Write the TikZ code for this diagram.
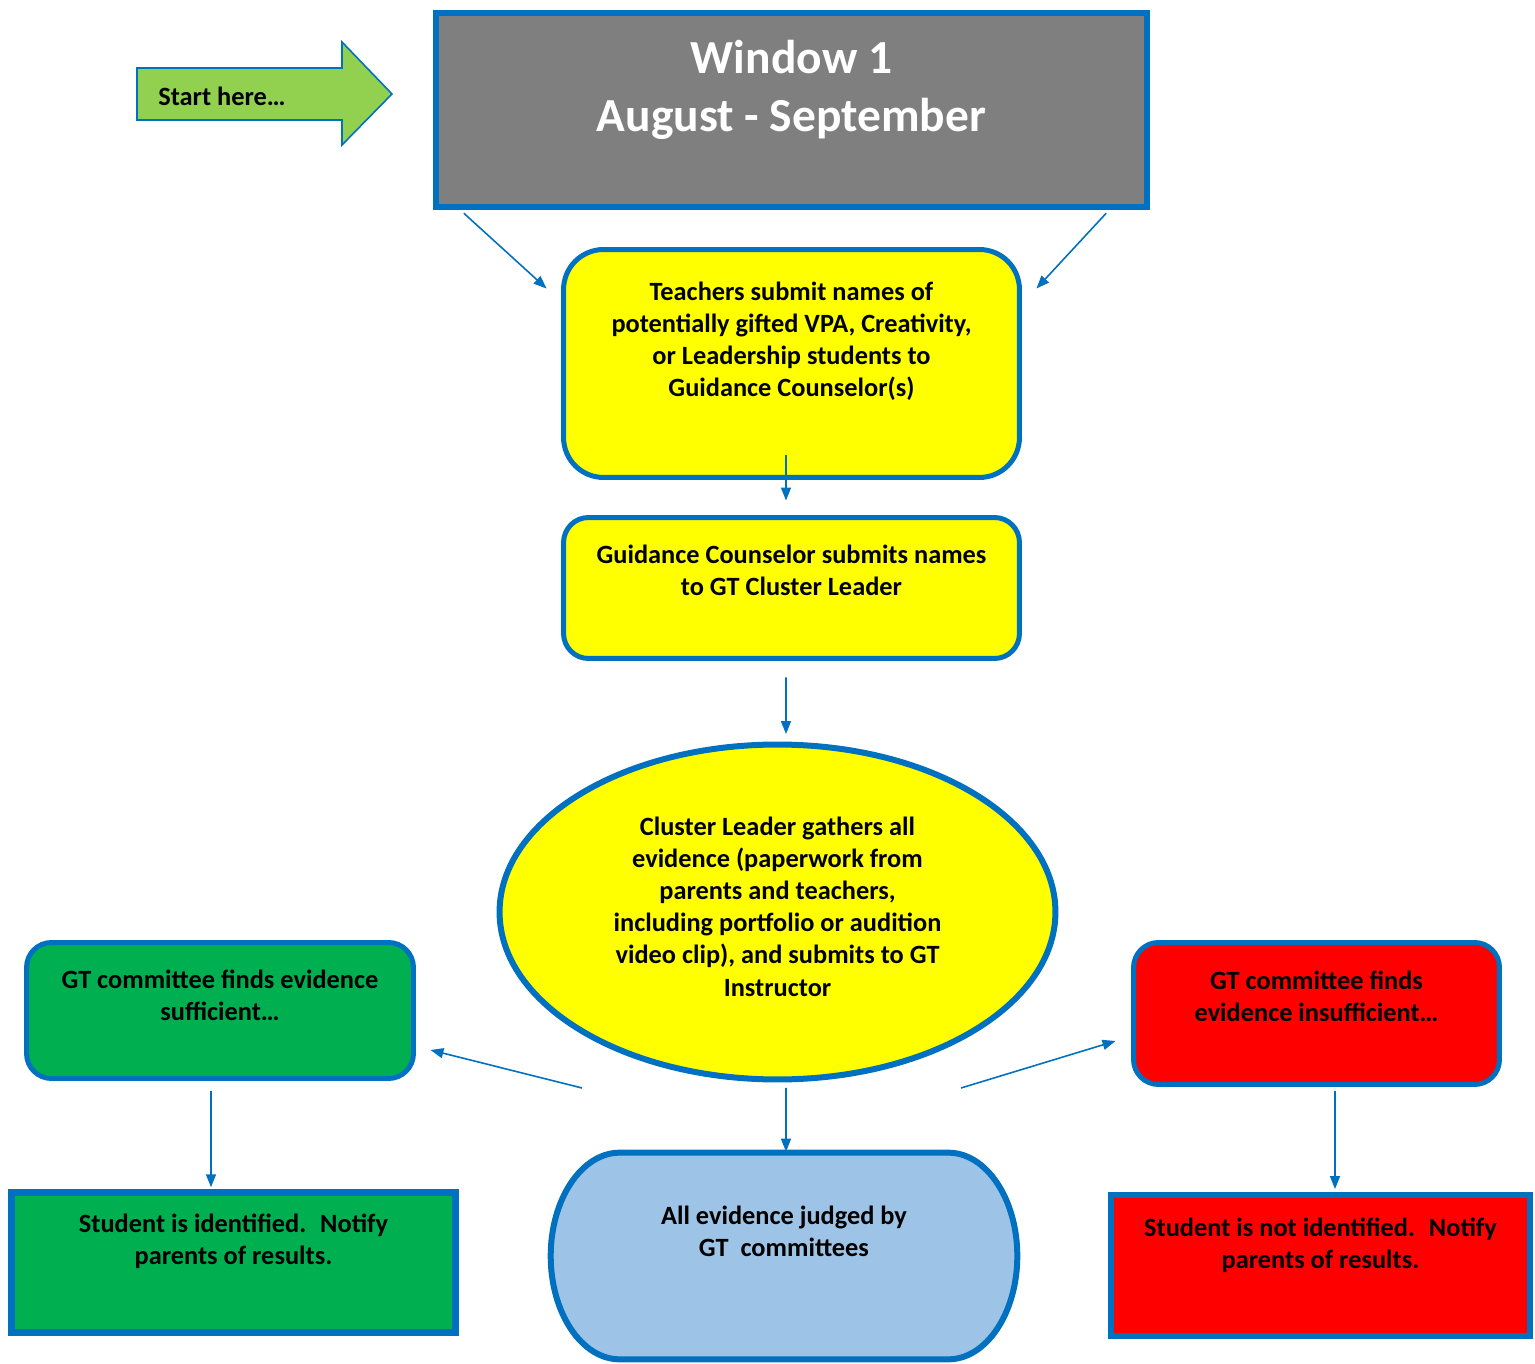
\documentclass[tikz,border=0pt]{standalone}
\usepackage{fontspec}
\setmainfont{Carlito}
\usetikzlibrary{arrows.meta,backgrounds,calc,shapes.geometric}

\definecolor{msblue}{HTML}{0070C0}
\definecolor{msgray}{HTML}{7F7F7F}
\definecolor{msyellow}{HTML}{FFFF00}
\definecolor{msgreen}{HTML}{00B050}
\definecolor{mslime}{HTML}{92D050}
\definecolor{msred}{HTML}{FF0000}
\definecolor{mssky}{HTML}{9DC3E6}

\begin{document}
\begin{tikzpicture}[x=0.02cm, y=-0.02cm, font=\bfseries\fontsize{15}{18.3}\selectfont]

% Styles
\tikzset{
  stepbox/.style={
    draw=msblue,
    line width=0.1cm,
    rectangle,
    rounded corners=0.5cm,
    inner sep=0pt
  },
  squarebox/.style={
    stepbox,
    rounded corners=0pt,
    line width=0.13cm
  },
  txt/.style={
    align=center,
    inner sep=0pt
  },
  link/.style={
    draw=msblue,
    line width=0.9pt,
    -{Triangle[length=0.26cm,width=0.2cm]}
  }
}

\useasboundingbox (0,0) rectangle (1535,1364);

% Start arrow
\draw[draw=msblue, line width=0.9pt, fill=mslime]
  (137,68) -- (342,68) -- (342,42) -- (392,94) -- (342,145) -- (342,120) -- (137,120) -- cycle;
\node[txt, anchor=west] (start) at (158,96) {Start here…};

% Window header
\node[squarebox, fill=msgray, minimum width=14.22cm, minimum height=3.88cm,
      label={[txt, text=white, font=\bfseries\fontsize{27}{33}\selectfont, yshift=0.41cm]center:Window 1\\August - September}]
      (win) at (791.5,110) {};

% Steps
\node[stepbox, fill=msyellow, rounded corners=0.8cm, minimum width=9.12cm, minimum height=4.56cm,
      label={[txt, yshift=0.45cm]center:Teachers submit names of\\potentially gifted VPA, Creativity,\\or Leadership students to\\Guidance Counselor(s)}]
      (teach) at (791.5,363.5) {};
\node[stepbox, fill=msyellow, minimum width=9.12cm, minimum height=2.82cm,
      label={[txt, yshift=0.35cm]center:Guidance Counselor submits names\\to GT Cluster Leader}]
      (guide) at (791.5,588) {};
\node[stepbox, ellipse, fill=msyellow, line width=0.12cm, minimum width=11.12cm, minimum height=6.7cm,
      label={[txt, yshift=0.11cm]center:Cluster Leader gathers all\\evidence (paperwork from\\parents and teachers,\\including portfolio or audition\\video clip), and submits to GT\\Instructor}]
      (clus) at (777.5,912) {};
\node[inner sep=0pt, minimum width=9.32cm, minimum height=4.12cm,
      label={[txt, yshift=0.5cm]center:All evidence judged by\\GT~ committees}]
      (judge) at (784,1256) {};

% Outcomes
\node[stepbox, fill=msgreen, minimum width=7.74cm, minimum height=2.72cm,
      label={[txt, yshift=0.3cm]center:GT committee finds evidence\\sufficient…}]
      (gtop) at (220,1010.5) {};
\node[stepbox, fill=msred, minimum width=7.32cm, minimum height=2.84cm,
      label={[txt, yshift=0.34cm]center:GT committee finds\\evidence insufficient…}]
      (rtop) at (1316.5,1013.5) {};
\node[squarebox, fill=msgreen, minimum width=8.88cm, minimum height=2.8cm,
      label={[txt, yshift=0.42cm]center:Student is identified.~ Notify\\parents of results.}]
      (gbot) at (233.5,1262.5) {};
\node[squarebox, fill=msred, line width=0.12cm, minimum width=8.38cm, minimum height=2.82cm,
      label={[txt, yshift=0.4cm]center:Student is not identified.~ Notify\\parents of results.}]
      (rbot) at (1320.5,1265.5) {};

% Judge outline
\begin{scope}[on background layer]
\draw[draw=msblue, line width=0.12cm, fill=mssky]
  ($(judge.north west)+(69,0)$) -- ($(judge.north east)+(-69,0)$)
  .. controls ($(judge.north east)+(-31,0)$) and ($(judge.east)+(0,-57)$) .. (judge.east)
  .. controls ($(judge.east)+(0,57)$) and ($(judge.south east)+(-31,0)$) .. ($(judge.south east)+(-69,0)$)
  -- ($(judge.south west)+(69,0)$)
  .. controls ($(judge.south west)+(31,0)$) and ($(judge.west)+(0,57)$) .. (judge.west)
  .. controls ($(judge.west)+(0,-57)$) and ($(judge.north west)+(31,0)$) .. ($(judge.north west)+(69,0)$)
  -- cycle;
\end{scope}

% Links
\coordinate (forkL) at (582,1088);
\coordinate (forkR) at (961,1088);
\draw[link] ($(win.south west)+(31,3)$) -- ($(teach.north west)+(-14.5,41.5)$);
\draw[link] ($(win.south east)+(-44,3)$) -- ($(teach.north east)+(14.5,41.5)$);
\draw[link] ($(teach.south)+(-5.5,-24.5)$) -- ($(guide.north)+(-5.5,-14.5)$);
\draw[link] ($(guide.south)+(-5.5,16.5)$) -- ($(clus.north)+(8.5,-7.5)$);
\draw[link] ($(clus.south)+(8.5,5.5)$) -- ($(judge.north)+(2,-1)$);
\draw[link] (forkL) -- ($(gtop.east)+(14.5,39.5)$);
\draw[link] (forkR) -- ($(rtop.west)+(-15.5,27.5)$);
\draw[link] ($(gtop.south)+(-9,10.5)$) -- ($(gbot.north)+(-22.5,-2)$);
\draw[link] ($(rtop.south)+(18.5,4.5)$) -- ($(rbot.north)+(14.5,-3)$);

\end{tikzpicture}
\end{document}
